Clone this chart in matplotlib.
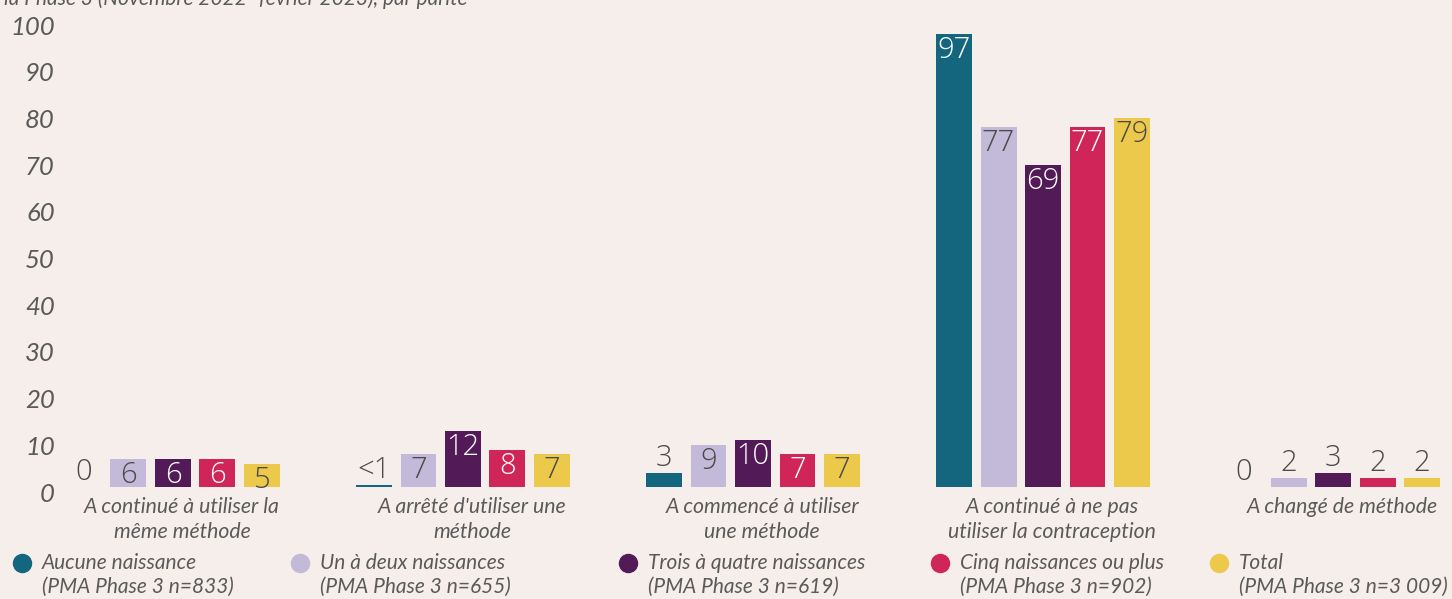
import numpy as np
import matplotlib
matplotlib.use("Agg")
import matplotlib.pyplot as plt
import matplotlib.transforms as mtrans
from matplotlib.lines import Line2D

categories = ["A continué à utiliser la\nmême méthode",
              "A arrêté d'utiliser une\nméthode",
              "A commencé à utiliser\nune méthode",
              "A continué à ne pas\nutiliser la contraception",
              "A changé de méthode"]
series_names = ["Aucune naissance", "Un à deux naissances", "Trois à quatre naissances",
                "Cinq naissances ou plus", "Total"]
series_n = ["(PMA Phase 3 n=833)", "(PMA Phase 3 n=655)", "(PMA Phase 3 n=619)",
            "(PMA Phase 3 n=902)", "(PMA Phase 3 n=3 009)"]
aucune = [0, 0.5, 3, 97, 0]
un_deux = [6, 7, 9, 77, 2]
trois_quatre = [6, 12, 10, 69, 3]
cinq_plus = [6, 8, 7, 77, 2]
total = [5, 7, 7, 79, 2]
yticks = list(range(0, 101, 10))

values = [aucune, un_deux, trois_quatre, cinq_plus, total]
colors = ["#14667e", "#c3b9d8", "#521a57", "#cf2559", "#ecc94b"]
text_colors = ["white", "#4a4a4a", "white", "white", "#4a4a4a"]
BG = "#f5eeeb"
GREY = "#5a5a5a"

plt.rcParams['font.family'] = ['Lato', 'DejaVu Sans']

fig = plt.figure(figsize=(14.52, 5.99), dpi=100, facecolor=BG)
ax = fig.add_axes([70/1452, 112/599, 1375/1452, 487/599])
ax.set_facecolor(BG)

x = np.arange(len(categories))
pitch, width = 0.1534, 0.124
for i, (vals, col, tcol) in enumerate(zip(values, colors, text_colors)):
    xs = x + (i - 2) * pitch
    ax.bar(xs, vals, width=width, color=col, zorder=2)
    for xi, v in zip(xs, vals):
        lab = "<1" if 0 < v < 1 else str(int(round(v)))
        if v >= 5:
            ax.annotate(lab, (xi, v), xytext=(0, -1), textcoords="offset points",
                        ha="center", va="top", color=tcol, fontsize=21,
                        family="Open Sans", fontweight="light")
        else:
            ax.annotate(lab, (xi, v), xytext=(0, 0), textcoords="offset points",
                        ha="center", va="bottom", color="#4a4a4a", fontsize=21,
                        family="Open Sans", fontweight="light")

ax.set_xlim(-0.355, 4.386)
ax.set_ylim(0, 104.3)
ax.set_yticks(yticks)
ax.set_yticklabels([str(t) for t in yticks], fontsize=18.5, style="italic", color=GREY)
ax.set_xticks(x)
ax.set_xticklabels(categories, fontsize=15.3, style="italic", color=GREY, linespacing=1.35)
ax.tick_params(axis="both", length=0)
ax.tick_params(axis="y", pad=11)
ax.tick_params(axis="x", pad=7)
for s in ax.spines.values():
    s.set_visible(False)

off_y = mtrans.ScaledTranslation(0, -0.05, fig.dpi_scale_trans)
for lbl in ax.get_yticklabels():
    lbl.set_transform(lbl.get_transform() + off_y)
off_x = mtrans.ScaledTranslation(0.09, 0, fig.dpi_scale_trans)
for lbl in ax.get_xticklabels():
    lbl.set_transform(lbl.get_transform() + off_x)

fig.text(4/1452, 1 - 5/599, "la Phase 3 (Novembre 2022–février 2023), par parité",
         fontsize=15, style="italic", color=GREY, va="baseline", ha="left")

# legend
mark_x = [22, 300, 628, 940, 1219]
for mx, name, n, col in zip(mark_x, series_names, series_n, colors):
    fig.add_artist(Line2D([mx/1452], [1 - 563/599], marker="o", markersize=13,
                          color=col, linestyle="none", transform=fig.transFigure))
    fig.text((mx + 20)/1452, 1 - 575/599, name + "\n" + n, fontsize=15,
             style="italic", color=GREY, va="center", ha="left", linespacing=1.2,
             transform=fig.transFigure)

fig.savefig("out.png", dpi=100, facecolor=BG)
